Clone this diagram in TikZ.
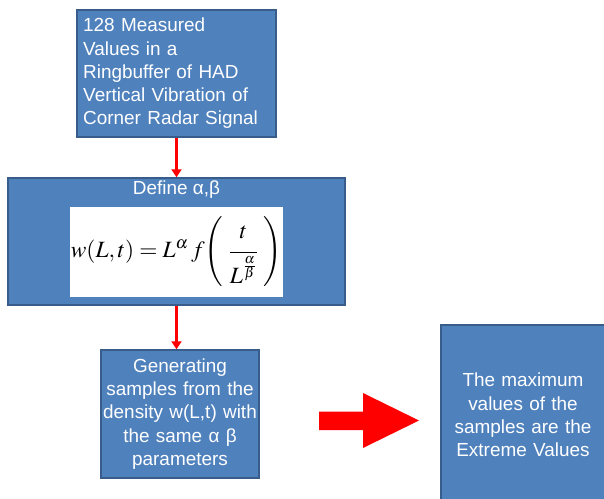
\documentclass[tikz,border=0pt]{standalone}
\usepackage{mathptmx}
\usepackage{fontspec}
\setmainfont{Liberation Sans}
\usetikzlibrary{arrows.meta}
\definecolor{boxblue}{RGB}{79,129,189}
\definecolor{boxedge}{RGB}{56,93,138}
\tikzset{every picture/.style={line width=0.75pt}}

\begin{document}
\begin{tikzpicture}[x=0.75pt,y=0.75pt,yscale=-1,xscale=1,
	stepbox/.style={draw=boxedge,fill=boxblue,line width=1.1pt,text=white,inner sep=0pt,
		font=\fontsize{14.2}{17.4}\selectfont},
	flow/.style={draw=red,line width=2.25pt,-{Triangle[length=6pt,width=7.5pt]}}]
	\useasboundingbox (0,0) rectangle (604,499);
	\clip (0,0) rectangle (604,499);

	%Shape: Rectangle [id:measured]
	\node[stepbox,minimum width=149.25pt,minimum height=95.25pt,text width=140pt,align=left] (measured) at (176.5,73.5)
		{128 Measured\\Values in a\\Ringbuffer of HAD\\Vertical Vibration of\\Corner Radar Signal};
	%Shape: Rectangle [id:define]
	\node[stepbox,minimum width=252.75pt,minimum height=95.25pt] (define) at (176.5,241.5) {};
	\node[text=white,font=\fontsize{14.2}{17.4}\selectfont,inner sep=0pt] (definetitle) at (176.5,190) {Define α,β};
	%Shape: Rectangle [id:formula]
	\node[fill=white,minimum width=159.75pt,minimum height=67.5pt,inner sep=0pt,font=\fontsize{17.5}{21}\selectfont] (formula) at (176.5,252)
		{$\displaystyle w(L,t) = L^{\alpha}\, f\!\left(\;\frac{t\rule[-8pt]{0pt}{8pt}}{\rule{0pt}{21pt}L^{\frac{\alpha}{\beta}}}\;\right)$};
	%Shape: Rectangle [id:samples]
	\node[stepbox,minimum width=118.5pt,minimum height=96pt,text width=118pt,align=center] (samples) at (180,414)
		{Generating\\samples from the\\density w(L,t) with\\the same α β\\parameters};
	%Shape: Rectangle [id:extreme]
	\node[stepbox,minimum width=123pt,minimum height=135pt,text width=118pt,align=center] (extreme) at (523,415)
		{The maximum\\values of the\\samples are the\\Extreme Values};

	%Straight Lines [id:flow1]
	\draw[flow] (measured.south) -- (define.north);
	%Straight Lines [id:flow2]
	\draw[flow] (define.south) -- (define.south |- samples.north);
	%Shape: Right Arrow [id:bigarrow]
	\fill[red] (319,411.5) -- (363,411.5) -- (363,393) -- (419,420.5) -- (363,448) -- (363,430) -- (319,430) -- cycle;
\end{tikzpicture}
\end{document}
